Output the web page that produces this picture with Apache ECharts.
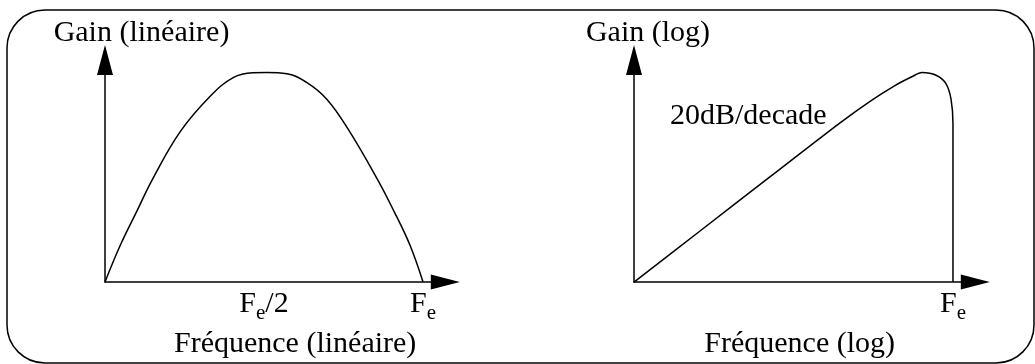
<!DOCTYPE html>
<html>
<head>
<meta charset="utf-8">
<script src="https://cdn.jsdelivr.net/npm/echarts@6/dist/echarts.min.js"></script>
<style>
  html, body { margin: 0; padding: 0; background: #fff; }
  #chart { width: 1035px; height: 364px; }
</style>
</head>
<body>
<div id="chart"></div>
<script>
// frequency normalised to Fe = 1, gain normalised to peak = 100
const linFreq = [0, 0.047, 0.101, 0.148, 0.236, 0.330, 0.403, 0.465, 0.509, 0.572, 0.635, 0.698, 0.764, 0.858, 0.906, 0.959, 1];
const linGain = [0, 17.2, 34.1, 48.7, 71.7, 88.6, 97.6, 99.9, 100, 99.4, 95.2, 87.2, 73.1, 48.7, 34.6, 17.6, 0];

const logFreq = [0, 0.207, 0.426, 0.646, 0.740, 0.818, 0.871, 0.903, 0.947, 0.978, 0.994, 1, 1];
const logGain = [0, 24.4, 50.2, 76.0, 86.3, 93.8, 98.0, 100, 98.7, 94.7, 87.2, 75.5, 0];

const linTicks = [0.5, 1];
const linTickLabels = ['{m|F}{s|e}{m|/2}', '{m|F}{s|e}'];
const logTicks = [1];
const logTickLabels = ['{m|F}{s|e}'];

const FONT = 'Liberation Serif';
const FS = 30;

const chart = echarts.init(document.getElementById('chart'));

const richLabel = {
  m: { fontFamily: FONT, fontSize: FS, color: '#000', lineHeight: 40, verticalAlign: 'middle' },
  s: { fontFamily: FONT, fontSize: 21, color: '#000', lineHeight: 40, verticalAlign: 'bottom' },
};

function xAxisOpt(idx, ticks, labels, name, namePad) {
  return {
    gridIndex: idx,
    type: 'value',
    min: 0,
    max: 1.07,
    interval: 0.5,
    name: name,
    nameLocation: 'middle',
    nameGap: 33,
    nameTextStyle: { fontFamily: FONT, fontSize: FS, color: '#000', padding: namePad },
    axisLine: {
      show: true,
      lineStyle: { color: '#000', width: 1.5 },
      symbol: ['none', 'triangle'],
      symbolSize: [15, 29],
    },
    axisTick: { show: false },
    splitLine: { show: false },
    axisLabel: {
      margin: 2,
      showMinLabel: true,
      showMaxLabel: true,
      rich: richLabel,
      formatter: (v) => {
        const i = ticks.indexOf(Math.round(v * 100) / 100);
        return i >= 0 ? labels[i] : '';
      },
    },
  };
}

function yAxisOpt(idx, name, namePad) {
  return {
    gridIndex: idx,
    type: 'value',
    min: 0,
    max: 106,
    name: name,
    nameLocation: 'end',
    nameGap: 12,
    nameTextStyle: { fontFamily: FONT, fontSize: FS, color: '#000', padding: namePad },
    axisLine: {
      show: true,
      lineStyle: { color: '#000', width: 1.5 },
      symbol: ['none', 'triangle'],
      symbolSize: [16, 30],
    },
    axisTick: { show: false },
    splitLine: { show: false },
    axisLabel: { show: false },
  };
}

chart.setOption({
  animation: false,
  backgroundColor: '#fff',
  grid: [
    { left: 105, top: 60, width: 340.3, height: 225.5 },
    { left: 634, top: 60, width: 341.3, height: 226 },
  ],
  xAxis: [
    xAxisOpt(0, linTicks, linTickLabels, 'Fréquence (linéaire)', [0, 0, 0, 40]),
    xAxisOpt(1, logTicks, logTickLabels, 'Fréquence (log)', [0, 10, 0, 0]),
  ],
  yAxis: [
    yAxisOpt(0, 'Gain (linéaire)', [0, 0, 0, 73]),
    yAxisOpt(1, 'Gain (log)', [0, 0, 0, 28]),
  ],
  graphic: [
    {
      type: 'rect',
      shape: { x: 7, y: 10, width: 1027, height: 353, r: 38 },
      style: { fill: 'none', stroke: '#000', lineWidth: 1.5 },
      z: 0,
    },
    {
      type: 'text',
      x: 670,
      y: 116,
      style: {
        text: '20dB/decade',
        fontFamily: FONT,
        fontSize: FS,
        fill: '#000',
        textVerticalAlign: 'middle',
      },
    },
  ],
  series: [
    {
      type: 'line',
      xAxisIndex: 0,
      yAxisIndex: 0,
      data: linFreq.map((f, i) => [f, linGain[i]]),
      symbol: 'none',
      smooth: 0.4,
      clip: false,
      lineStyle: { color: '#000', width: 1.5 },
    },
    {
      type: 'line',
      xAxisIndex: 1,
      yAxisIndex: 1,
      data: logFreq.map((f, i) => [f, logGain[i]]),
      symbol: 'none',
      smooth: 0.3,
      clip: false,
      lineStyle: { color: '#000', width: 1.5 },
    },
  ],
});
</script>
</body>
</html>
